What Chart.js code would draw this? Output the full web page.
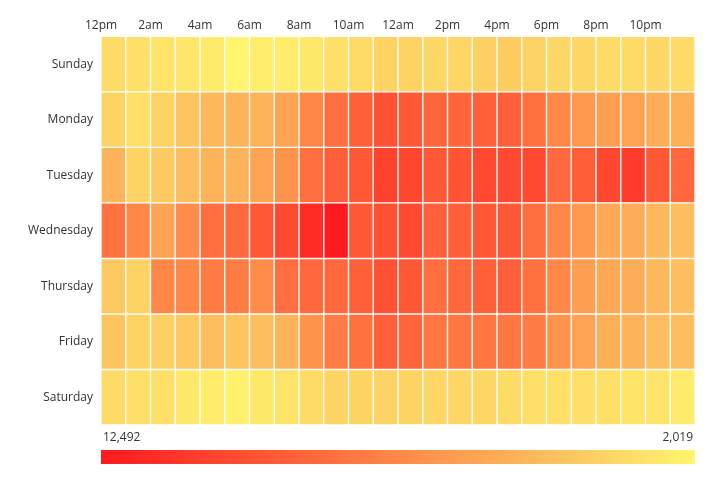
<!DOCTYPE html>
<html>
<head>
<meta charset="utf-8">
<script src="https://cdn.jsdelivr.net/npm/chart.js@4/dist/chart.umd.min.js"></script>
<style>
  html, body { margin: 0; padding: 0; background: #fff; }
  #wrap { width: 720px; height: 480px; }
</style>
</head>
<body>
<div id="wrap"><canvas id="heatmap"></canvas></div>
<script>
const days = ["Sunday", "Monday", "Tuesday", "Wednesday", "Thursday", "Friday", "Saturday"];
const hourTicks = ["12pm", "2am", "4am", "6am", "8am", "10am", "12am", "2pm", "4pm", "6pm", "8pm", "10pm"];

const sunday = [3276, 3066, 2857, 2752, 2543, 2019, 2333, 2438, 2647, 3066, 3276, 3590, 3590, 3380, 3485, 3799, 3904, 3695, 3380, 3380, 3276, 3276, 3380, 3276];
const monday = [3590, 3066, 3590, 4323, 4951, 5161, 5161, 5999, 7256, 8512, 9141, 9874, 9560, 8931, 8931, 9141, 9141, 8303, 7256, 6418, 6208, 5999, 5475, 5370];
const tuesday = [5161, 3590, 4114, 4637, 5161, 5161, 5999, 6732, 8512, 9350, 9560, 10607, 10397, 9560, 9769, 10188, 10188, 10188, 8826, 9350, 10397, 10921, 9560, 8826];
const wednesday = [8303, 7256, 5999, 7046, 8512, 8826, 9560, 10188, 11654, 12492, 9560, 9874, 10188, 9141, 9141, 9560, 9560, 8512, 7256, 6418, 5685, 5475, 4951, 4637];
const thursday = [4114, 3590, 7256, 7256, 7779, 7779, 7046, 8512, 8826, 8826, 9141, 9874, 9560, 8512, 8826, 9141, 9141, 8303, 7256, 6208, 5685, 5475, 4951, 4637];
const friday = [4323, 3590, 3799, 4114, 4637, 4323, 4637, 5161, 6732, 7779, 8303, 9141, 8931, 8093, 8093, 8093, 8093, 7779, 6732, 5999, 5370, 5161, 4637, 4637];
const saturday = [3276, 3066, 3066, 2647, 2438, 2228, 2647, 2857, 3276, 3590, 3590, 3695, 3590, 3485, 3485, 3380, 3276, 3066, 3066, 3066, 3066, 2857, 2857, 2543];

const rows = [sunday, monday, tuesday, wednesday, thursday, friday, saturday];
const allValues = rows.flat();
const maxValue = Math.max(...allValues);
const minValue = Math.min(...allValues);

// colour stops, from low (yellow) to high (red)
const stops = [
  [0, [255, 245, 110]],
  [0.25, [252, 190, 94]],
  [0.5, [255, 136, 72]],
  [1, [255, 26, 31]]
];

function colorFor(v) {
  const t = (v - minValue) / (maxValue - minValue);
  for (let i = 1; i < stops.length; i++) {
    if (t <= stops[i][0]) {
      const [t0, c0] = stops[i - 1];
      const [t1, c1] = stops[i];
      const f = (t - t0) / (t1 - t0);
      const c = c0.map((a, k) => Math.round(a + (c1[k] - a) * f));
      return `rgb(${c[0]}, ${c[1]}, ${c[2]})`;
    }
  }
  return "rgb(255, 26, 31)";
}

const datasets = [];
for (let h = 0; h < 24; h++) {
  datasets.push({
    label: "h" + h,
    data: days.map(() => [h, h + 1]),
    backgroundColor: rows.map((r) => colorFor(r[h])),
    borderColor: "#ffffff",
    borderWidth: 1,
    borderSkipped: false,
    grouped: false,
    categoryPercentage: 1,
    barPercentage: 1
  });
}

const fontFamily = "'Segoe UI', 'Open Sans', 'Noto Sans', sans-serif";

const scaleLegend = {
  id: "scaleLegend",
  afterDraw(chart) {
    const { ctx, chartArea } = chart;
    const left = chartArea.left;
    const right = chartArea.right;
    ctx.save();
    ctx.font = "12px " + fontFamily;
    ctx.fillStyle = "#333";
    ctx.textBaseline = "middle";
    ctx.textAlign = "left";
    ctx.fillText(maxValue.toLocaleString("en-US"), left + 2, 438);
    ctx.textAlign = "right";
    ctx.fillText(minValue.toLocaleString("en-US"), right - 2, 438);
    const grad = ctx.createLinearGradient(left, 0, right, 0);
    stops.forEach(([t, c]) => grad.addColorStop(1 - t, `rgb(${c[0]}, ${c[1]}, ${c[2]})`));
    ctx.fillStyle = grad;
    ctx.fillRect(left, 450, right - left, 14);
    ctx.restore();
  }
};

new Chart(document.getElementById("heatmap").getContext("2d"), {
  type: "bar",
  data: { labels: days, datasets: datasets },
  options: {
    indexAxis: "y",
    responsive: true,
    maintainAspectRatio: false,
    animation: false,
    layout: { padding: { top: 14, right: 25, bottom: 55, left: 20 } },
    plugins: {
      legend: { display: false },
      tooltip: {
        callbacks: {
          label: (item) => {
            const h = item.datasetIndex;
            return days[item.dataIndex] + ": " + rows[item.dataIndex][h].toLocaleString("en-US");
          }
        }
      }
    },
    scales: {
      x: {
        type: "linear",
        position: "top",
        min: 0,
        max: 24,
        grid: { display: false, drawTicks: false },
        border: { display: false },
        ticks: {
          stepSize: 2,
          padding: 4,
          color: "#333",
          font: { family: fontFamily, size: 12 },
          maxRotation: 0,
          callback: (v) => (v / 2 < hourTicks.length ? hourTicks[v / 2] : "")
        }
      },
      y: {
        type: "category",
        grid: { display: false, drawTicks: false },
        border: { display: false },
        ticks: {
          padding: 8,
          color: "#333",
          font: { family: fontFamily, size: 12 }
        }
      }
    }
  },
  plugins: [scaleLegend]
});
</script>
</body>
</html>
